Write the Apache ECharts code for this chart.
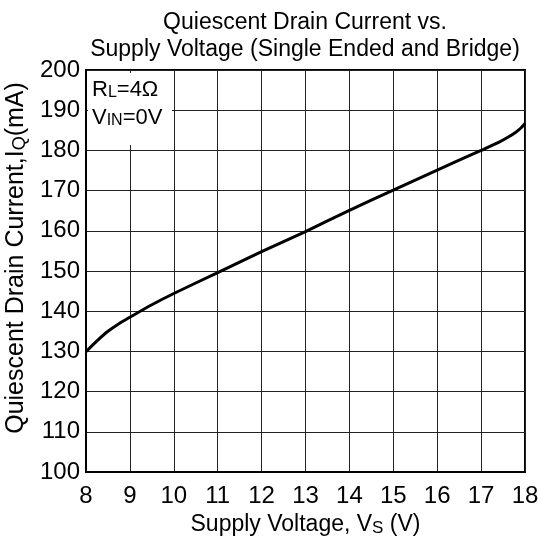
<!DOCTYPE html>
<html>
<head>
<meta charset="utf-8">
<script src="https://cdn.jsdelivr.net/npm/echarts@6/dist/echarts.min.js"></script>
<style>html,body{margin:0;padding:0;background:#fff}#c{width:539px;height:545px}</style>
</head>
<body>
<div id="c"></div>
<script>
var titleLines = ['Quiescent Drain Current vs.', 'Supply Voltage (Single Ended and Bridge)'];
var xTicks = [8, 9, 10, 11, 12, 13, 14, 15, 16, 17, 18];
var yTicks = [100, 110, 120, 130, 140, 150, 160, 170, 180, 190, 200];
var supplyVoltage = [8, 8.25, 8.5, 8.75, 9, 9.5, 10, 11, 12, 13, 14, 15, 16, 17, 17.4, 17.6, 17.8, 17.9, 18];
var drainCurrent = [129.9, 132.6, 135.0, 136.9, 138.5, 141.6, 144.4, 149.6, 154.8, 159.8, 165.1, 170.1, 175.1, 180.0, 182.0, 183.2, 184.6, 185.5, 186.7];

var FONT = '"Liberation Sans", Arial, sans-serif';
var data = supplyVoltage.map(function (v, i) { return [v, drainCurrent[i]]; });

var chart = echarts.init(document.getElementById('c'), null, { renderer: 'canvas' });
chart.setOption({
  animation: false,
  backgroundColor: '#fff',
  title: {
    text: titleLines.join('\n'),
    left: 300, top: 4, textAlign: 'center',
    textStyle: { fontFamily: FONT, fontSize: 23, fontWeight: 'normal', color: '#000', lineHeight: 27 }
  },
  grid: { left: 86, right: 14, top: 70, bottom: 73, outerBoundsMode: 'none', containLabel: false, show: true, borderColor: '#000', borderWidth: 2, backgroundColor: 'transparent' },
  xAxis: {
    type: 'value', min: 8, max: 18, interval: 1,
    name: '{a|Supply Voltage, V}{s|S}{a| (V)}',
    nameLocation: 'middle', nameGap: 38,
    nameTextStyle: { rich: {
      a: { fontFamily: FONT, fontSize: 23, color: '#000' },
      s: { fontFamily: FONT, fontSize: 17, color: '#000', padding: [7, 0, 0, 0] }
    } },
    axisLine: { show: true, lineStyle: { color: '#000', width: 2 } },
    axisTick: { show: false },
    axisLabel: { fontFamily: FONT, fontSize: 24, color: '#000', margin: 12 },
    splitLine: { show: true, lineStyle: { color: '#222', width: 1 } }
  },
  yAxis: {
    type: 'value', min: 100, max: 200, interval: 10,
    name: '{a|Quiescent Drain Current,I}{s|Q}{a|(mA)}',
    nameLocation: 'middle', nameGap: 50, nameRotate: 90,
    nameTextStyle: { padding: [0, 0, 0, 26], rich: {
      a: { fontFamily: FONT, fontSize: 25, color: '#000' },
      s: { fontFamily: FONT, fontSize: 18, color: '#000', padding: [7, 0, 0, 0] }
    } },
    axisLine: { show: true, lineStyle: { color: '#000', width: 2 } },
    axisTick: { show: false },
    axisLabel: { fontFamily: FONT, fontSize: 24, color: '#000', margin: 6 },
    splitLine: { show: true, lineStyle: { color: '#222', width: 1 } }
  },
  series: [{
    type: 'line', data: data, smooth: 0.25, symbol: 'none',
    lineStyle: { color: '#000', width: 3 }, z: 3
  }],
  graphic: [
    { type: 'rect', shape: { x: 88, y: 73, width: 84, height: 72 }, style: { fill: '#fff' }, z: 10 },
    { type: 'text', x: 92, y: 78, z: 11, style: {
      text: '{a|R}{s|L}{a|=4Ω}',
      rich: { a: { fontFamily: FONT, fontSize: 22, fill: '#000' }, s: { fontFamily: FONT, fontSize: 16, fill: '#000', padding: [7, 0, 0, 0] } }
    } },
    { type: 'text', x: 92, y: 106, z: 11, style: {
      text: '{a|V}{s|IN}{a|=0V}',
      rich: { a: { fontFamily: FONT, fontSize: 22, fill: '#000' }, s: { fontFamily: FONT, fontSize: 16, fill: '#000', padding: [7, 0, 0, 0] } }
    } }
  ]
});
</script>
</body>
</html>
